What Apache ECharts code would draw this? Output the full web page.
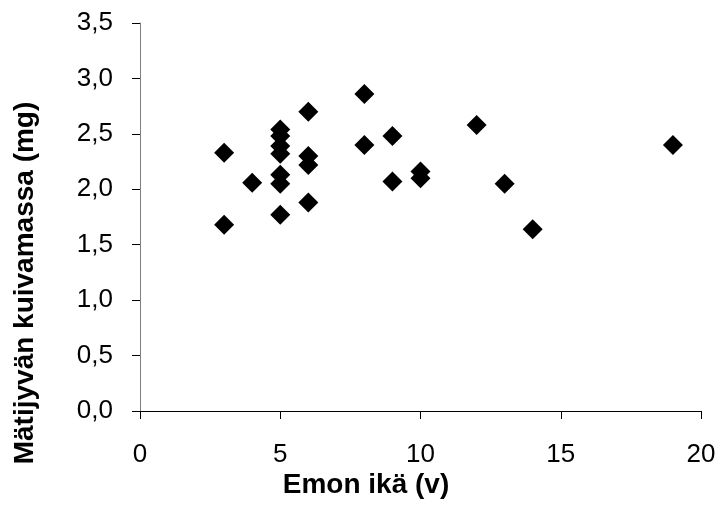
<!DOCTYPE html>
<html><head><meta charset="utf-8">
<script src="https://cdn.jsdelivr.net/npm/echarts@6/dist/echarts.min.js"></script>
<style>html,body{margin:0;padding:0;background:#fff}#c{width:722px;height:522px}</style>
</head><body><div id="c"></div>
<script>
const ages = [3, 3, 4, 5, 5, 5, 5, 5, 5, 5, 6, 6, 6, 6, 8, 8, 9, 9, 10, 10, 12, 13, 14, 19];
const masses = [2.33, 1.68, 2.06, 2.54, 2.48, 2.39, 2.32, 2.13, 2.05, 1.77, 2.70, 2.30, 2.22, 1.88, 2.86, 2.40, 2.48, 2.07, 2.16, 2.10, 2.58, 2.05, 1.64, 2.40];
const xTitle = 'Emon ikä (v)';
const yTitle = 'Mätijyvän kuivamassa (mg)';

const points = ages.map((a, i) => [a, masses[i]]);
const font = '"Liberation Sans", Arial, sans-serif';
const chart = echarts.init(document.getElementById('c'));
chart.setOption({
  animation: false,
  backgroundColor: '#fff',
  grid: { left: 140, right: 21, top: 23, bottom: 111 },
  xAxis: {
    type: 'value', min: 0, max: 20, interval: 5,
    axisLine: { show: true, onZero: false, lineStyle: { color: '#000', width: 1 } },
    axisTick: { show: true, length: 8, inside: false, lineStyle: { color: '#000' } },
    axisLabel: { fontFamily: font, fontSize: 26, color: '#000', margin: 31 },
    splitLine: { show: false }
  },
  yAxis: {
    type: 'value', min: 0, max: 3.5, interval: 0.5,
    axisLine: { show: true, onZero: false, lineStyle: { color: '#808080', width: 1 } },
    axisTick: { show: true, length: 8, inside: false, lineStyle: { color: '#000' } },
    axisLabel: { fontFamily: font, fontSize: 26, color: '#000', margin: 27,
      formatter: v => v.toFixed(1).replace('.', ',') },
    splitLine: { show: false }
  },
  graphic: [
    { type: 'text', x: 366, y: 485,
      style: { text: xTitle, fontFamily: font, fontSize: 28, fontWeight: 'bold', fill: '#000', align: 'center', verticalAlign: 'middle' } },
    { type: 'text', x: 25, y: 283, rotation: Math.PI / 2,
      style: { text: yTitle, fontFamily: font, fontSize: 28, fontWeight: 'bold', fill: '#000', align: 'center', verticalAlign: 'middle' } }
  ],
  series: [{
    type: 'scatter',
    data: points,
    symbol: 'diamond',
    symbolSize: [20, 20],
    itemStyle: { color: '#000', opacity: 1 }
  }]
});
</script></body></html>
